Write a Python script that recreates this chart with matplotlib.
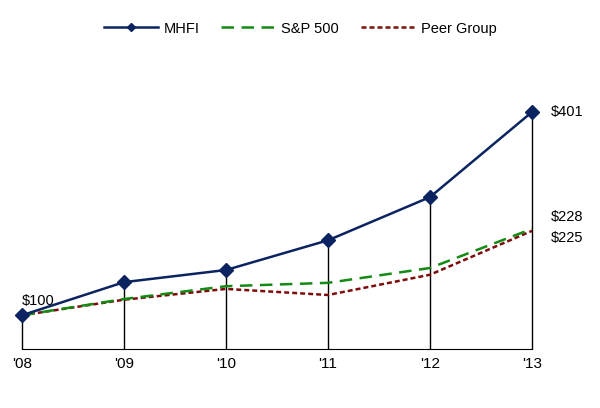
import numpy as np
import matplotlib.pyplot as plt

plt.rcParams['font.family'] = ['Liberation Sans', 'DejaVu Sans']

years = ["'08", "'09", "'10", "'11", "'12", "'13"]
mhfi = [100, 149, 167, 211, 275, 401]
sp500 = [100, 124, 143, 148, 170, 228]
peer = [100, 123, 139, 130, 160, 225]

navy = '#0b2461'
green = '#138a13'
red = '#7f0c0c'

x = np.arange(len(years))
fig = plt.figure(figsize=(6, 4.08), dpi=100)
ax = fig.add_axes([0.0367, 0.1446, 0.850, 0.662])

ax.vlines(x, 50, mhfi, color='black', lw=1, zorder=1, clip_on=False)
ax.plot(x, peer, color=red, lw=1.8, ls=(0, (2, 1.2)), label='Peer Group', zorder=2, clip_on=False)
ax.plot(x, sp500, color=green, lw=1.8, ls=(0, (5, 3)), label='S&P 500', zorder=3, clip_on=False)
ax.plot(x, mhfi, color=navy, lw=1.8, marker='D', ms=7, label='MHFI', zorder=4, clip_on=False)

ax.set_xlim(0, 5)
ax.set_ylim(50, 450)
ax.set_xticks(x)
ax.set_xticklabels(years, fontsize=11)
ax.set_yticks([])
ax.tick_params(axis='x', length=0, pad=6)
for s in ['top', 'right', 'left']:
    ax.spines[s].set_visible(False)
ax.spines['bottom'].set_color('black')

ax.text(0, mhfi[0] + 11, '\\$100', fontsize=10.5, ha='left', va='bottom')
ax.text(5.18, mhfi[-1], '\\$401', fontsize=10.5, ha='left', va='center')
ax.text(5.18, sp500[-1] + 17, '\\$228', fontsize=10.5, ha='left', va='center')
ax.text(5.18, peer[-1] - 10, '\\$225', fontsize=10.5, ha='left', va='center')

h, l = ax.get_legend_handles_labels()
order = [2, 1, 0]
fig.legend([h[i] for i in order], [l[i] for i in order], loc='center', ncol=3,
           bbox_to_anchor=(0.5, 0.93), frameon=False, fontsize=10.5,
           handlelength=3.7, handletextpad=0.4, columnspacing=1.5, markerscale=0.6)

fig.savefig('out.png', dpi=100)
